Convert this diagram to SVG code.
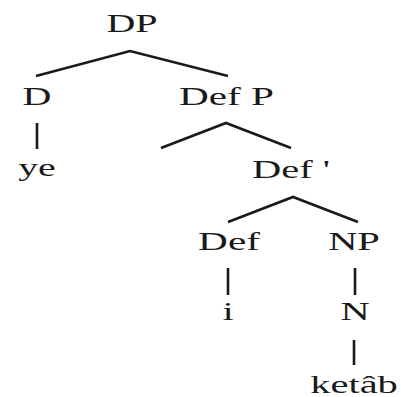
<svg xmlns="http://www.w3.org/2000/svg" width="401" height="397" viewBox="0 0 401 397">
<style>
.t{font-family:"Liberation Serif","Times New Roman",serif;font-size:25px;fill:#1a1a1a;text-anchor:middle}
.e{stroke:#1a1a1a;stroke-width:2.6;fill:none;stroke-linecap:butt}
</style>
<rect width="401" height="397" fill="#fff"/>
<g id="connectors">
<polyline class="e" points="36,76 130,51 228,76"/>
<line class="e" x1="37" y1="123" x2="37" y2="149"/>
<polyline class="e" points="161,148 226,123 291,148"/>
<polyline class="e" points="228,222 293,197 358,222"/>
<line class="e" x1="228" y1="268" x2="228" y2="295"/>
<line class="e" x1="355" y1="268" x2="355" y2="295"/>
<line class="e" x1="354" y1="340" x2="354" y2="365"/>
</g>
<g id="DP"><text class="t" transform="translate(132,32) scale(1.6,1)">DP</text></g>
<g id="D"><text class="t" transform="translate(37,105) scale(1.6,1)">D</text></g>
<g id="ye"><text class="t" transform="translate(37,176) scale(1.6,1)">ye</text></g>
<g id="DefP"><text class="t" transform="translate(226.5,105) scale(1.65,1)">Def P</text></g>
<g id="DefBar"><text class="t" transform="translate(291,178) scale(1.62,1)">Def '</text></g>
<g id="Def"><text class="t" transform="translate(229,250) scale(1.65,1)">Def</text></g>
<g id="NP"><text class="t" transform="translate(354,250) scale(1.62,1)">NP</text></g>
<g id="i"><text class="t" transform="translate(228,320) scale(1.62,1)">i</text></g>
<g id="N"><text class="t" transform="translate(355,320) scale(1.62,1)">N</text></g>
<g id="ketab"><text class="t" transform="translate(354,393) scale(1.62,1)">ketâb</text></g>
</svg>
